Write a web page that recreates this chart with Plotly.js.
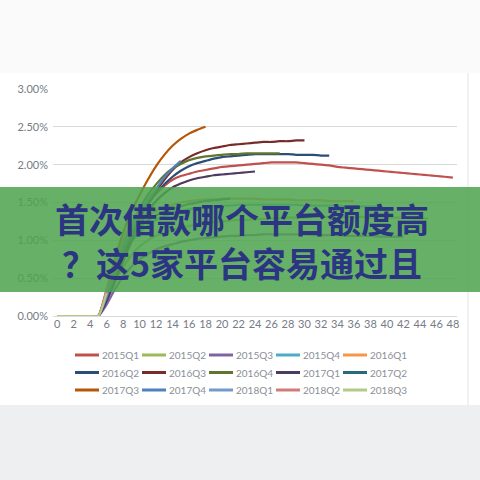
<!DOCTYPE html>
<html>
<head>
<meta charset="utf-8">
<script src="https://cdn.plot.ly/plotly-3.0.1.min.js"></script>
<style>
  html, body { margin: 0; padding: 0; background: #ffffff; }
  #chart { width: 480px; height: 480px; }
</style>
</head>
<body>
<div id="chart"></div>
<script>
// month on book (x axis)
var months = [0,1,2,3,4,5,6,7,8,9,10,11,12,13,14,15,16,17,18,19,20,21,22,23,24,
              25,26,27,28,29,30,31,32,33,34,35,36,37,38,39,40,41,42,43,44,45,46,47,48]

// cohort names + colours (legend order)
var cohorts = ['2015Q1','2015Q2','2015Q3','2015Q4','2016Q1',
               '2016Q2','2016Q3','2016Q4','2017Q1','2017Q2',
               '2017Q3','2017Q4','2018Q1','2018Q2','2018Q3']
var colors = ['#c0504d','#9bbb59','#8064a2','#4bacc6','#f79646',
              '#2c4d75','#772c2a','#5f7530','#4d3b62','#276a7c',
              '#b65708','#4f81bd','#729aca','#d47a7a','#b3cb84']

// values in % (each cohort is shorter by 3 months)
var v2015Q1 = [0,0,0,0,0,0,0.30,0.65,0.95,1.18,1.36,1.50,1.62,1.72,1.80,1.85,1.88,1.91,1.93,1.95,1.97,1.98,1.99,2.00,2.01,
               2.02,2.03,2.03,2.03,2.03,2.02,2.01,2.00,1.99,1.97,1.96,1.95,1.94,1.93,1.92,1.91,1.90,1.89,1.88,1.87,1.86,1.85,1.84,1.83]
var v2015Q2 = [0,0,0,0,0,0,0.20,0.45,0.65,0.80,0.92,1.00,1.06,1.10,1.14,1.17,1.19,1.21,1.23,1.24,1.25,1.26,1.27,1.27,1.28,
               1.28,1.29,1.29,1.30,1.30,1.30,1.31,1.31,1.31,1.31,1.31,1.31,1.31,1.30,1.30,1.30,1.30,1.30,1.29,1.29,1.29]
var v2015Q3 = [0,0,0,0,0,0,0.15,0.35,0.52,0.65,0.75,0.82,0.88,0.92,0.95,0.98,1.00,1.02,1.03,1.04,1.05,1.06,1.06,1.07,1.07,
               1.08,1.08,1.08,1.08,1.08,1.08,1.07,1.07,1.07,1.07,1.06,1.06,1.06,1.06,1.05,1.05,1.05,1.05]
var v2015Q4 = [0,0,0,0,0,0,0.25,0.55,0.80,0.98,1.10,1.20,1.27,1.32,1.36,1.39,1.41,1.43,1.44,1.45,1.46,1.46,1.47,1.47,1.47,
               1.47,1.47,1.47,1.47,1.47,1.46,1.46,1.46,1.46,1.46,1.45,1.45,1.45,1.45,1.45]
var v2016Q1 = [0,0,0,0,0,0,0.25,0.60,0.88,1.08,1.22,1.32,1.39,1.44,1.47,1.50,1.52,1.53,1.54,1.54,1.55,1.55,1.55,1.55,1.55,
               1.54,1.54,1.54,1.54,1.53,1.53,1.53,1.53,1.52,1.52,1.52,1.52]
var v2016Q2 = [0,0,0,0,0,0,0.25,0.55,0.85,1.10,1.30,1.47,1.62,1.74,1.84,1.92,1.98,2.02,2.05,2.08,2.10,2.11,2.12,2.13,2.14,
               2.14,2.14,2.14,2.14,2.13,2.13,2.13,2.12,2.12]
var v2016Q3 = [0,0,0,0,0,0,0.22,0.50,0.80,1.05,1.28,1.48,1.65,1.80,1.93,2.03,2.10,2.15,2.19,2.22,2.24,2.26,2.27,2.28,2.29,
               2.30,2.30,2.31,2.31,2.32,2.32]
var v2016Q4 = [0,0,0,0,0,0,0.30,0.65,0.95,1.20,1.42,1.60,1.74,1.86,1.95,2.01,2.06,2.09,2.11,2.12,2.13,2.14,2.14,2.15,2.15,
               2.15,2.15,2.15]
var v2017Q1 = [0,0,0,0,0,0,0.20,0.45,0.72,0.98,1.20,1.38,1.52,1.62,1.70,1.75,1.79,1.82,1.84,1.86,1.87,1.88,1.89,1.90,1.91]
var v2017Q2 = [0,0,0,0,0,0,0.30,0.62,0.88,1.05,1.17,1.26,1.33,1.38,1.42,1.45,1.48,1.50,1.52,1.53,1.54,1.55]
var v2017Q3 = [0,0,0,0,0,0,0.35,0.75,1.10,1.38,1.60,1.80,1.98,2.13,2.25,2.34,2.41,2.46,2.50]
var v2017Q4 = [0,0,0,0,0,0,0.25,0.55,0.85,1.10,1.32,1.52,1.68,1.83,1.95,2.05]
var v2018Q1 = [0,0,0,0,0,0,0.30,0.65,0.95,1.20,1.40,1.55,1.68]
var v2018Q2 = [0,0,0,0,0,0,0.35,0.70,1.00,1.25]
var v2018Q3 = [0,0,0,0,0,0,0.30]

var yTicks = [0, 0.5, 1, 1.5, 2, 2.5, 3]
var xTicks = [0,2,4,6,8,10,12,14,16,18,20,22,24,26,28,30,32,34,36,38,40,42,44,46,48]

var headline1 = '首次借款哪个平台额度高'
var headline2 = '？这5家平台容易通过且'

var series = [v2015Q1,v2015Q2,v2015Q3,v2015Q4,v2016Q1,v2016Q2,v2016Q3,v2016Q4,
              v2017Q1,v2017Q2,v2017Q3,v2017Q4,v2018Q1,v2018Q2,v2018Q3]

var data = []
for (i=0; i<series.length; i++) {
    data.push({
        x: months.slice(0, series[i].length),
        y: series[i],
        mode: 'lines',
        type: 'scatter',
        name: cohorts[i],
        showlegend: false,
        line: {color: colors[i], width: 2.2, shape: 'spline', smoothing: 0.5},
        hoverinfo: 'skip'
    })
}

// plot area: px 53..457 across, 89..316 down
var W = 404, H = 227
function px(x) { return (x-53)/W }
function py(y) { return (316-y)/H }

var tickFont = {family: 'Lato, "Liberation Sans", sans-serif', size: 11, color: '#767b85'}

var shapes = [
    // off-white strip above the chart card
    {type: 'rect', xref: 'paper', yref: 'paper', layer: 'below',
     x0: px(0), x1: px(480), y0: py(73), y1: py(0),
     fillcolor: '#fafafa', line: {width: 0}},
    // grey strip below the chart card
    {type: 'rect', xref: 'paper', yref: 'paper', layer: 'below',
     x0: px(0), x1: px(480), y0: py(480), y1: py(405),
     fillcolor: '#edeff1', line: {width: 0}},
    // right edge of the card
    {type: 'line', xref: 'paper', yref: 'paper', layer: 'below',
     x0: px(468), x1: px(468), y0: py(405), y1: py(73),
     line: {color: '#e4e4e4', width: 1}},
    // green banner over the chart
    {type: 'rect', xref: 'paper', yref: 'paper', layer: 'above',
     x0: px(0), x1: px(480), y0: py(292), y1: py(187),
     fillcolor: 'rgba(78,163,78,0.86)', line: {width: 0}}
]

var annotations = [
    {text: '<b>' + headline1 + '<br>' + headline2 + '</b>', xref: 'paper', yref: 'paper',
     x: px(242), y: py(240), xanchor: 'center', yanchor: 'middle', showarrow: false,
     font: {family: '"Noto Sans CJK SC", sans-serif', size: 34, color: '#2b3582'}}
]

// excel style legend: 5 per row, short line sample + label
var legRows = [355, 372.5, 390]
for (i=0; i<cohorts.length; i++) {
    var col = i % 5, row = Math.floor(i/5)
    var lx = 75 + 67*col, ly = legRows[row]
    shapes.push({type: 'line', xref: 'paper', yref: 'paper', layer: 'above',
                 x0: px(lx), x1: px(lx+24), y0: py(ly), y1: py(ly),
                 line: {color: colors[i], width: 3}})
    annotations.push({text: cohorts[i], xref: 'paper', yref: 'paper',
                      x: px(lx+25), y: py(ly), xanchor: 'left', yanchor: 'middle',
                      showarrow: false,
                      font: {family: 'Lato, "Liberation Sans", sans-serif', size: 10, color: '#8a8f98'}})
}

var layout = {
    width: 480,
    height: 480,
    margin: {l: 53, r: 23, t: 89, b: 164},
    paper_bgcolor: '#ffffff',
    plot_bgcolor: '#ffffff',
    showlegend: false,
    xaxis: {
        range: [-0.5, 48.5],
        tickvals: xTicks,
        ticktext: xTicks.map(String),
        showgrid: false,
        zeroline: false,
        showline: false,
        ticks: '',
        tickfont: tickFont,
        fixedrange: true
    },
    yaxis: {
        range: [0, 3],
        tickvals: yTicks,
        ticktext: yTicks.map(function(v){ return v.toFixed(2) + '%' }),
        showgrid: true,
        gridcolor: '#d9d9d9',
        gridwidth: 1,
        zeroline: true,
        zerolinecolor: '#d9d9d9',
        zerolinewidth: 1,
        ticks: '',
        ticklabelstandoff: 4,
        tickfont: tickFont,
        fixedrange: true
    },
    shapes: shapes,
    annotations: annotations
}

Plotly.newPlot('chart', data, layout, {displayModeBar: false, staticPlot: true})
</script>
</body>
</html>
